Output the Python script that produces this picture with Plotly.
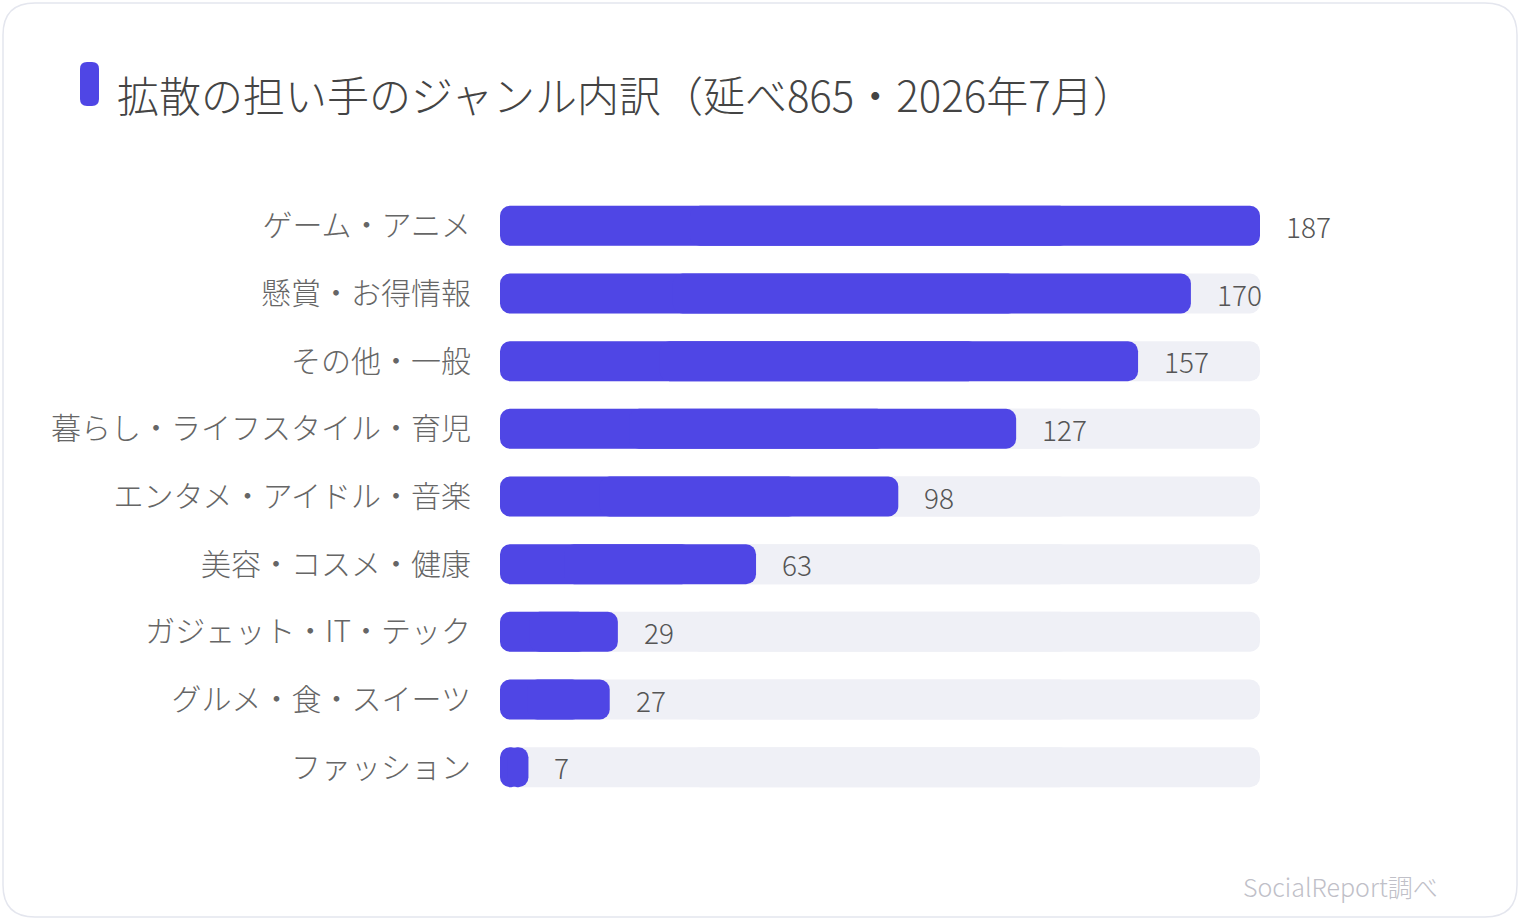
import plotly.graph_objects as go

# data (top to bottom as shown)
genres = ["ゲーム・アニメ", "懸賞・お得情報", "その他・一般", "暮らし・ライフスタイル・育児",
          "エンタメ・アイドル・音楽", "美容・コスメ・健康", "ガジェット・IT・テック",
          "グルメ・食・スイーツ", "ファッション"]
counts = [187, 170, 157, 127, 98, 63, 29, 27, 7]
max_count = max(counts)

title_text = "拡散の担い手のジャンル内訳（延べ865・2026年7月）"
source_text = "SocialReport調べ"

FONT = "Noto Sans CJK JP Light, Noto Sans CJK JP DemiLight, Noto Sans CJK JP"
BAR = "#4f46e5"
TRACK = "#eff0f6"

W, H = 1520, 920
L, R, T, B = 500, 260, 192, 119
pw, ph = W - L - R, H - T - B


def px_x(x):
    return (x - L) / pw


def px_y(y):
    return (H - B - y) / ph


def rounded_rect(x0, y0, x1, y1, r):
    # pixel coords -> paper path with rounded corners
    rx, ry = r / pw, r / ph
    a, b, c, d = px_x(x0), px_y(y1), px_x(x1), px_y(y0)
    return (f"M {a+rx},{b} L {c-rx},{b} Q {c},{b} {c},{b+ry} "
            f"L {c},{d-ry} Q {c},{d} {c-rx},{d} L {a+rx},{d} "
            f"Q {a},{d} {a},{d-ry} L {a},{b+ry} Q {a},{b} {a+rx},{b} Z")


def pill(fig, values, color, hover):
    # two overlapping pieces, each rounded on its outer end -> rounded on both ends
    left_len = [v * 0.75 for v in values]
    right_base = [v * 0.25 for v in values]
    pieces = [
        dict(x=[-l for l in left_len], base=left_len),
        dict(x=left_len, base=right_base),
    ]
    for p in pieces:
        fig.add_trace(go.Bar(
            y=genres, orientation="h", **p,
            marker=dict(color=color, cornerradius=10, line=dict(width=0)), width=0.59,
            hoverinfo="skip" if not hover else None,
            customdata=values,
            hovertemplate="%{y}: %{customdata}<extra></extra>" if hover else None,
            showlegend=False,
        ))


fig = go.Figure()
pill(fig, [max_count] * len(genres), TRACK, False)
pill(fig, counts, BAR, True)

for g, v in zip(genres, counts):
    fig.add_annotation(x=v, y=g, text=str(v), showarrow=False,
                       xanchor="left", xshift=24,
                       font=dict(family=FONT, size=28, color="#555", weight=300))

shapes = [
    dict(type="path", xref="paper", yref="paper",
         path=rounded_rect(3, 3, 1517, 917, 32),
         line=dict(color="#e4e6ee", width=1.5), fillcolor="rgba(0,0,0,0)", layer="below"),
    dict(type="path", xref="paper", yref="paper",
         path=rounded_rect(80, 62, 99, 106, 7),
         line=dict(width=0), fillcolor=BAR),
]

fig.add_annotation(xref="paper", yref="paper", x=px_x(115), y=px_y(94),
                   text=title_text, showarrow=False, xanchor="left", yanchor="middle",
                   font=dict(family=FONT, size=42, color="#444", weight=300))
fig.add_annotation(xref="paper", yref="paper", x=px_x(1440), y=px_y(886),
                   text=source_text, showarrow=False, xanchor="right", yanchor="middle",
                   font=dict(family=FONT, size=25, color="#c0c0c8", weight=300))

fig.update_layout(
    width=W, height=H,
    margin=dict(l=L, r=R, t=T, b=B),
    paper_bgcolor="white", plot_bgcolor="white",
    barmode="overlay",
    shapes=shapes,
    font=dict(family=FONT),
    xaxis=dict(range=[0, max_count], visible=False, fixedrange=True),
    yaxis=dict(categoryorder="array", categoryarray=genres, autorange="reversed",
               showgrid=False, zeroline=False, showline=False, ticks="",
               ticklabelstandoff=28, fixedrange=True,
               tickfont=dict(family=FONT, size=30, color="#666", weight=300)),
)

fig.write_html("out.html", config={"displayModeBar": False},
               post_script="document.body.style.margin='0px';")
